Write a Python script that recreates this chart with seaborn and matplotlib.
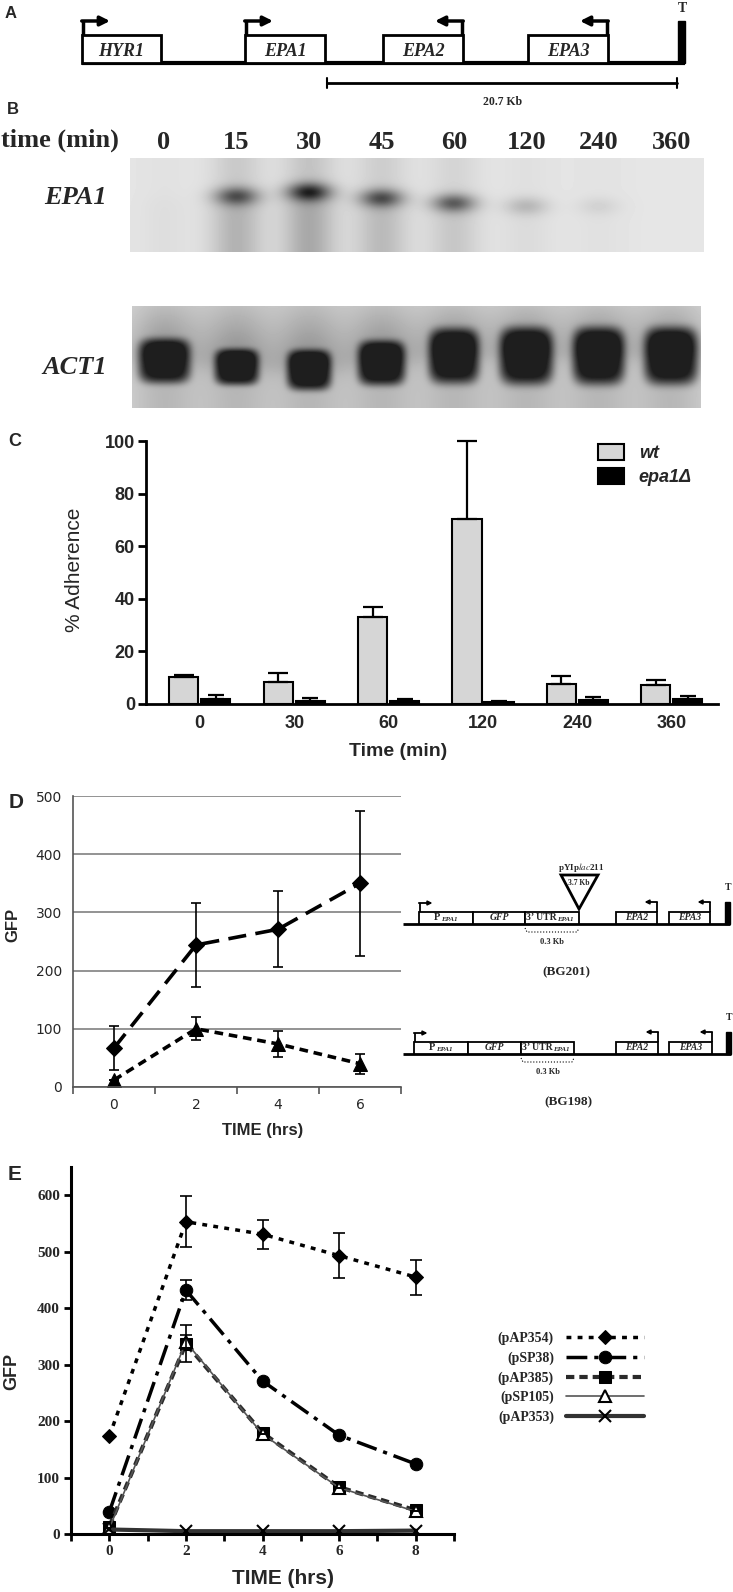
import numpy as np
import pandas as pd
import matplotlib
matplotlib.use('Agg')
import matplotlib.pyplot as plt
import seaborn as sns
from matplotlib.patches import Rectangle, Polygon

# ---------------- data ----------------
# A: gene map
gene_names = ['HYR1', 'EPA1', 'EPA2', 'EPA3']
gene_strand = [1, 1, -1, -1]
scale_label = '20.7 Kb'

# B: northern blot (band darkness / position per lane)
blot_times = ['0', '15', '30', '45', '60', '120', '240', '360']
epa1_band = [0.0, 0.45, 0.6, 0.48, 0.45, 0.15, 0.06, 0.0]
epa1_smear = [0.03, 0.2, 0.24, 0.17, 0.12, 0.04, 0.02, 0.0]
epa1_band_pos = [40, 38, 34, 40, 45, 48, 48, 48]
act1_band = [0.68, 0.68, 0.7, 0.7, 0.7, 0.7, 0.7, 0.7]
act1_band_pos = [55, 61, 64, 57, 50, 50, 50, 50]
act1_band_h = [21, 17, 19, 21, 26, 27, 27, 27]
act1_band_w = [0.34, 0.29, 0.29, 0.31, 0.33, 0.35, 0.34, 0.35]

# C: adherence
adh_times = ['0', '30', '60', '120', '240', '360']
wt_adh = [10.3, 8.3, 33.0, 70.2, 7.7, 7.1]
wt_err = [0.8, 3.3, 3.8, 29.8, 2.9, 1.9]
epa1d_adh = [1.9, 1.3, 1.1, 0.7, 1.5, 1.9]
epa1d_err = [1.6, 1.0, 0.8, 0.3, 1.2, 1.3]

# D: GFP of BG201 / BG198
d_hours = [0, 2, 4, 6]
bg201 = [67, 244, 271, 350]
bg201_err = [38, 72, 65, 125]
bg198 = [12, 100, 74, 40]
bg198_err = [0, 20, 23, 17]

# E: GFP of plasmids
e_hours = [0, 2, 4, 6, 8]
pAP354 = [173, 553, 531, 493, 455]
pAP354_err = [0, 45, 26, 40, 31]
pSP38 = [39, 432, 271, 175, 124]
pSP38_err = [0, 17, 0, 0, 0]
pAP385 = [13, 337, 179, 83, 42]
pAP385_err = [0, 33, 0, 0, 0]
pSP105 = [10, 340, 177, 82, 40]
pSP105_err = [0, 12, 0, 0, 0]
pAP353 = [8, 5, 5, 5, 6]
e_labels = ['(pAP354)', '(pSP38)', '(pAP385)', '(pSP105)', '(pAP353)']

# ---------------- figure ----------------
sns.set_style('ticks')
plt.rcParams['font.family'] = ['Liberation Sans', 'DejaVu Sans']
plt.rcParams['mathtext.fontset'] = 'stix'
SERIF = 'Liberation Serif'

W, H = 733, 1592
fig = plt.figure(figsize=(W / 100, H / 100), dpi=100)


def rect(x0, y0, x1, y1):
    return [x0 / W, 1 - y1 / H, (x1 - x0) / W, (y1 - y0) / H]


canvas = fig.add_axes([0, 0, 1, 1], zorder=10)
canvas.set_xlim(0, W)
canvas.set_ylim(H, 0)
canvas.axis('off')
canvas.patch.set_alpha(0)


def arrow(x, ytop, ybox, dx, lw, ms):
    canvas.plot([x, x], [ybox, ytop], color='k', lw=lw, solid_capstyle='butt')
    canvas.annotate('', xy=(x + dx, ytop), xytext=(x - np.sign(dx) * lw / 2, ytop),
                    arrowprops=dict(arrowstyle='-|>', lw=lw, color='k',
                                    mutation_scale=ms, shrinkA=0, shrinkB=0))


# panel labels
for lab, x, y, s in [('A', 5, 13, 12), ('B', 7, 109, 12), ('C', 8, 442, 13),
                     ('D', 9, 802, 15), ('E', 8, 1174, 15)]:
    canvas.text(x, y, lab, fontsize=s, fontweight='bold', va='center', ha='left')

# ---- A: gene map ----
gx0 = [82, 245, 383, 528]
gx1 = [161, 325, 463, 608]
canvas.plot([82, 685], [63, 63], color='k', lw=3, solid_capstyle='butt')
for name, s, x0, x1 in zip(gene_names, gene_strand, gx0, gx1):
    canvas.add_patch(Rectangle((x0, 35), x1 - x0, 28, fc='w', ec='k', lw=2, zorder=3))
    canvas.text((x0 + x1) / 2, 51, name, fontsize=13, family=SERIF, style='italic',
                weight='bold', ha='center', va='center', zorder=4)
    xa = x0 + 1 if s > 0 else x1 - 1
    arrow(xa, 21, 35, 27 * s, 2.5, 14)
canvas.add_patch(Rectangle((678, 21), 7, 42, fc='k', ec='k'))
canvas.text(682, 9, 'T', fontsize=10, family=SERIF, weight='bold', ha='center', va='center')
canvas.plot([327, 677], [83, 83], color='k', lw=2)
canvas.plot([327, 327], [78, 88], color='k', lw=1.5)
canvas.plot([677, 677], [78, 88], color='k', lw=1.5)
canvas.text(503, 102, scale_label, fontsize=8.5, family=SERIF, weight='bold',
            ha='center', va='center')

# ---- B: northern blot ----
canvas.text(1, 140, 'time (min)', fontsize=19, family=SERIF, weight='bold', va='center')
canvas.text(75, 198, 'EPA1', fontsize=19, family=SERIF, style='italic', weight='bold',
            ha='center', va='center')
canvas.text(75, 367, 'ACT1', fontsize=19, family=SERIF, style='italic', weight='bold',
            ha='center', va='center')


def lane_grid(x0, x1, ny):
    nx = int((x1 - x0))
    xs = np.linspace((x0 - 164) / 72.5, (x1 - 164) / 72.5, nx)
    ys = np.arange(ny) + 0.5
    X, Y = np.meshgrid(xs, ys)
    return xs, X, Y


# EPA1 blot
axb1 = fig.add_axes(rect(130, 158, 704, 252))
xs, X, Y = lane_grid(130, 704, 94)
img = np.full(X.shape, 0.9)
for i in range(len(blot_times)):
    gx = np.exp(-0.5 * ((X - i) / 0.21) ** 2)
    gxs = np.exp(-0.5 * ((X - i) / 0.26) ** 2)
    img -= epa1_band[i] * gx * np.exp(-0.5 * ((Y - epa1_band_pos[i]) / 6.5) ** 2)
    below = 1 / (1 + np.exp(-(Y - epa1_band_pos[i]) / 4))
    img -= epa1_smear[i] * gxs * (0.55 + 0.45 * below)
axb1.imshow(np.clip(img, 0, 1), cmap='gray', vmin=0, vmax=1, aspect='auto',
            extent=(xs[0], xs[-1], 94, 0), interpolation='bilinear')
axb1.set_yticks([])
axb1.set_xticks(range(len(blot_times)))
axb1.set_xticklabels(blot_times)
axb1.xaxis.tick_top()
axb1.tick_params(axis='x', length=0, pad=3)
for t in axb1.get_xticklabels():
    t.set_fontproperties(dict(family=SERIF, weight='bold', size=19))
for sp in axb1.spines.values():
    sp.set_visible(False)

# ACT1 blot
axb2 = fig.add_axes(rect(132, 306, 701, 408))
xs, X, Y = lane_grid(132, 701, 102)
img = np.full(X.shape, 0.84)
for i in range(len(blot_times)):
    dx = np.abs(X - i) / act1_band_w[i]
    dy = np.abs(Y - act1_band_pos[i]) / act1_band_h[i]
    img -= act1_band[i] * np.exp(-0.69 * (dx ** 4 + dy ** 4) ** 1.5)
    gxs = np.exp(-0.5 * ((X - i) / 0.34) ** 2)
    above = 1 / (1 + np.exp(-(act1_band_pos[i] - Y) / 6))
    img -= 0.32 * gxs * above * (0.3 + 0.7 * Y / act1_band_pos[i]).clip(0, 1)
    img -= 0.12 * gxs * (1 - above)
axb2.imshow(np.clip(img, 0.12, 1), cmap='gray', vmin=0, vmax=1, aspect='auto',
            extent=(xs[0], xs[-1], 102, 0), interpolation='bilinear')
axb2.axis('off')

# ---- C: adherence bars ----
axc = fig.add_axes(rect(146, 441, 718, 704))
df_c = pd.DataFrame({'time': adh_times * 2,
                     'adh': wt_adh + epa1d_adh,
                     'strain': ['wt'] * len(adh_times) + ['epa1Δ'] * len(adh_times)})
sns.barplot(data=df_c, x='time', y='adh', hue='strain', order=adh_times,
            hue_order=['wt', 'epa1Δ'], palette=['#d6d6d6', '#000000'], saturation=1,
            edgecolor='k', linewidth=1.5, width=0.68, gap=0.09, errorbar=None, ax=axc)
xc = np.arange(len(adh_times))
axc.errorbar(xc - 0.17, wt_adh, yerr=[np.zeros(len(wt_err)), wt_err], fmt='none',
             ecolor='k', elinewidth=1.6, capsize=7, capthick=1.6, clip_on=False)
axc.errorbar(xc + 0.17, epa1d_adh, yerr=[np.zeros(len(epa1d_err)), epa1d_err],
             fmt='none', ecolor='k', elinewidth=1.6, capsize=6, capthick=1.6, clip_on=False)
axc.set_xlim(-0.57, len(adh_times) - 0.51)
axc.set_ylim(0, 100)
axc.set_yticks(range(0, 101, 20))
sns.despine(ax=axc)
for sp in ['left', 'bottom']:
    axc.spines[sp].set_linewidth(2)
    axc.spines[sp].set_color('k')
axc.tick_params(axis='y', length=6, width=2, color='k', pad=2)
axc.tick_params(axis='x', length=0, pad=8)
for t in axc.get_xticklabels() + axc.get_yticklabels():
    t.set_fontproperties(dict(family='Liberation Sans', weight='bold', size=13))
axc.set_xlabel('Time (min)', fontsize=14, fontweight='bold', va='center')
axc.xaxis.set_label_coords(0.44, (704 - 752) / (704 - 441))
axc.set_ylabel('% Adherence', fontsize=15, va='center')
axc.yaxis.set_label_coords((75 - 146) / (718 - 146), 0.51)
h, l = axc.get_legend_handles_labels()
axc.legend(h, l, loc='upper left', bbox_to_anchor=(598 / W, 1 - 444 / H),
           bbox_transform=fig.transFigure, frameon=False, borderpad=0, borderaxespad=0,
           handlelength=1.45, handleheight=0.95, handletextpad=0.8, labelspacing=0.35,
           prop=dict(family='Liberation Sans', weight='bold', style='italic', size=13))

# ---- D: GFP lines + constructs ----
axd = fig.add_axes(rect(73, 796, 401, 1087))
sns.lineplot(x=d_hours, y=bg201, ax=axd, color='k', lw=2.6, linestyle=(0, (5, 2.6)),
             marker='D', markersize=7.8, mfc='k', mec='k', errorbar=None)
sns.lineplot(x=d_hours, y=bg198, ax=axd, color='k', lw=2.6, linestyle=(0, (2.4, 1.6)),
             marker='^', markersize=10.5, mfc='k', mec='k', errorbar=None)
axd.errorbar(d_hours, bg201, yerr=bg201_err, fmt='none', ecolor='k', elinewidth=1.2,
             capsize=3.6, capthick=1.2)
axd.errorbar(d_hours, bg198, yerr=bg198_err, fmt='none', ecolor='k', elinewidth=1.2,
             capsize=3.6, capthick=1.2)
axd.set_xlim(-1, 7)
axd.set_ylim(0, 500)
axd.set_yticks(range(0, 501, 100))
axd.set_xticks(d_hours)
axd.set_xticks([-1, 1, 3, 5, 7], minor=True)
axd.yaxis.grid(True, color='#8a8a8a', lw=1.3)
axd.set_axisbelow(True)
for sp in ['top', 'right']:
    axd.spines[sp].set_visible(False)
for sp in ['left', 'bottom']:
    axd.spines[sp].set_color('#555555')
    axd.spines[sp].set_linewidth(1.2)
axd.tick_params(axis='y', length=0, pad=8)
axd.tick_params(axis='x', which='major', length=0, pad=8)
axd.tick_params(axis='x', which='minor', length=5, width=1.2, color='#555555')
for t in axd.get_xticklabels() + axd.get_yticklabels():
    t.set_fontproperties(dict(family='DejaVu Sans', size=10))
axd.set_xlabel('TIME (hrs)', fontsize=12, fontweight='bold', va='center')
axd.xaxis.set_label_coords((263 - 73) / (401 - 73), (1087 - 1131) / (1087 - 796))
axd.set_ylabel('GFP', fontsize=12, fontweight='bold', va='center')
axd.yaxis.set_label_coords((13 - 73) / (401 - 73), (1087 - 925) / (1087 - 796))


def construct(base, xs, epa2, epa3, tx, insert):
    bh = 12
    canvas.plot([403, tx + 5], [base, base], color='k', lw=2, solid_capstyle='butt')
    for x0, x1 in [(xs[0], xs[1]), (xs[1], xs[2]), (xs[2], xs[3]), epa2, epa3]:
        canvas.add_patch(Rectangle((x0, base - bh), x1 - x0, bh, fc='w', ec='k', lw=1.3,
                                   zorder=3))
    yt = base - bh / 2
    tk = dict(family=SERIF, weight='bold', va='center', zorder=4)
    canvas.text(xs[0] + 21, yt, 'P', fontsize=7.5, ha='right', **tk)
    canvas.text(xs[0] + 22, yt + 1.5, 'EPA1', fontsize=5, ha='left', style='italic', **tk)
    canvas.text((xs[1] + xs[2]) / 2, yt, 'GFP', fontsize=7, ha='center', style='italic', **tk)
    canvas.text(xs[2] + 32, yt, '3’ UTR', fontsize=7, ha='right', **tk)
    canvas.text(xs[2] + 32, yt + 1.5, 'EPA1', fontsize=5, ha='left', style='italic', **tk)
    canvas.text(sum(epa2) / 2, yt, 'EPA2', fontsize=7, ha='center', style='italic', **tk)
    canvas.text(sum(epa3) / 2, yt, 'EPA3', fontsize=7, ha='center', style='italic', **tk)
    arrow(xs[0] + 0.5, base - bh - 9, base - bh, 13, 1.3, 6)
    arrow(epa2[1] - 0.5, base - bh - 10, base - bh, -12, 1.3, 6)
    arrow(epa3[1] - 0.5, base - bh - 10, base - bh, -12, 1.3, 6)
    canvas.add_patch(Rectangle((tx, base - 22), 5, 22, fc='k', ec='k'))
    canvas.text(tx + 3, base - 36, 'T', fontsize=7, family=SERIF, weight='bold',
                ha='center', va='center')
    u0, u1 = xs[2], xs[3]
    canvas.plot([u0, u0 + 2, u1 - 2, u1], [base + 4, base + 8, base + 8, base + 4],
                color='k', lw=0.8, ls=':')
    canvas.text((u0 + u1) / 2, base + 18, '0.3 Kb', fontsize=6, family=SERIF,
                weight='bold', ha='center', va='center')
    if insert:
        canvas.add_patch(Polygon([(561, 875), (598, 875), (xs[3], base - bh - 3)],
                                 closed=True, fc='w', ec='k', lw=2, zorder=5))
        canvas.text(579, 883, '3.7 Kb', fontsize=5.5, family=SERIF, weight='bold',
                    ha='center', va='center', zorder=6)
        canvas.text(581, 867, 'pYIp$\\it{lac}$211', fontsize=6.5, family=SERIF,
                    weight='bold', ha='center', va='center')


construct(924, [419, 473, 525, 579], (616, 657), (669, 710), 725, True)
canvas.text(566, 972, '(BG201)', fontsize=9.5, family=SERIF, weight='bold',
            ha='center', va='center')
construct(1054, [414, 468, 521, 574], (616, 658), (669, 712), 726, False)
canvas.text(568, 1102, '(BG198)', fontsize=9.5, family=SERIF, weight='bold',
            ha='center', va='center')

# ---- E: GFP time course ----
axe = fig.add_axes(rect(71, 1167, 454, 1534))
e_styles = [
    (pAP354, pAP354_err, dict(color='k', lw=2.5, linestyle=(0, (1.4, 1.8)), marker='D',
                              markersize=6.8, mfc='k', mec='k')),
    (pSP38, pSP38_err, dict(color='k', lw=2.5, linestyle=(0, (6, 2, 1.2, 2)), marker='o',
                            markersize=9, mfc='k', mec='k')),
    (pAP385, pAP385_err, dict(color='#2a2a2a', lw=3, linestyle=(0, (2, 1.2)), marker='s',
                              markersize=9, mfc='k', mec='k')),
    (pSP105, pSP105_err, dict(color='#555555', lw=1.2, linestyle='-', marker='^',
                              markersize=8, mfc='w', mec='k', mew=1.5)),
    (pAP353, None, dict(color='#333333', lw=3, linestyle='-', marker='x',
                        markersize=9, mec='k', mew=1.5)),
]
e_lines = []
for vals, err, kw in e_styles:
    sns.lineplot(x=e_hours, y=vals, ax=axe, errorbar=None, **kw)
    e_lines.append(axe.get_lines()[-1])
    if err is not None:
        axe.errorbar(e_hours, vals, yerr=err, fmt='none', ecolor='k', elinewidth=1.2,
                     capsize=4.6, capthick=1.2)
axe.set_xlim(-1, 9)
axe.set_ylim(0, 650)
axe.set_yticks(range(0, 601, 100))
axe.set_xticks(e_hours)
axe.set_xticks([-1, 1, 3, 5, 7, 9], minor=True)
sns.despine(ax=axe)
for sp in ['left', 'bottom']:
    axe.spines[sp].set_linewidth(2.2)
    axe.spines[sp].set_color('k')
axe.tick_params(axis='both', which='both', length=5, width=2, color='k', pad=3)
for t in axe.get_xticklabels() + axe.get_yticklabels():
    t.set_fontproperties(dict(family=SERIF, weight='bold', size=11))
axe.set_xlabel('TIME (hrs)', fontsize=15, fontweight='bold', va='center')
axe.xaxis.set_label_coords((283 - 71) / (454 - 71), (1534 - 1579) / (1534 - 1167))
axe.set_ylabel('GFP', fontsize=13, fontweight='bold', va='center')
axe.yaxis.set_label_coords((12 - 71) / (454 - 71), (1534 - 1371) / (1534 - 1167))
axe.legend(e_lines, e_labels, loc='center', bbox_to_anchor=(571 / W, 1 - 1378 / H),
           bbox_transform=fig.transFigure, frameon=False, markerfirst=False, numpoints=1,
           handlelength=5.6, handletextpad=0.9, labelspacing=0.45,
           prop=dict(family=SERIF, weight='bold', size=10))

fig.savefig('out.png', dpi=100)
